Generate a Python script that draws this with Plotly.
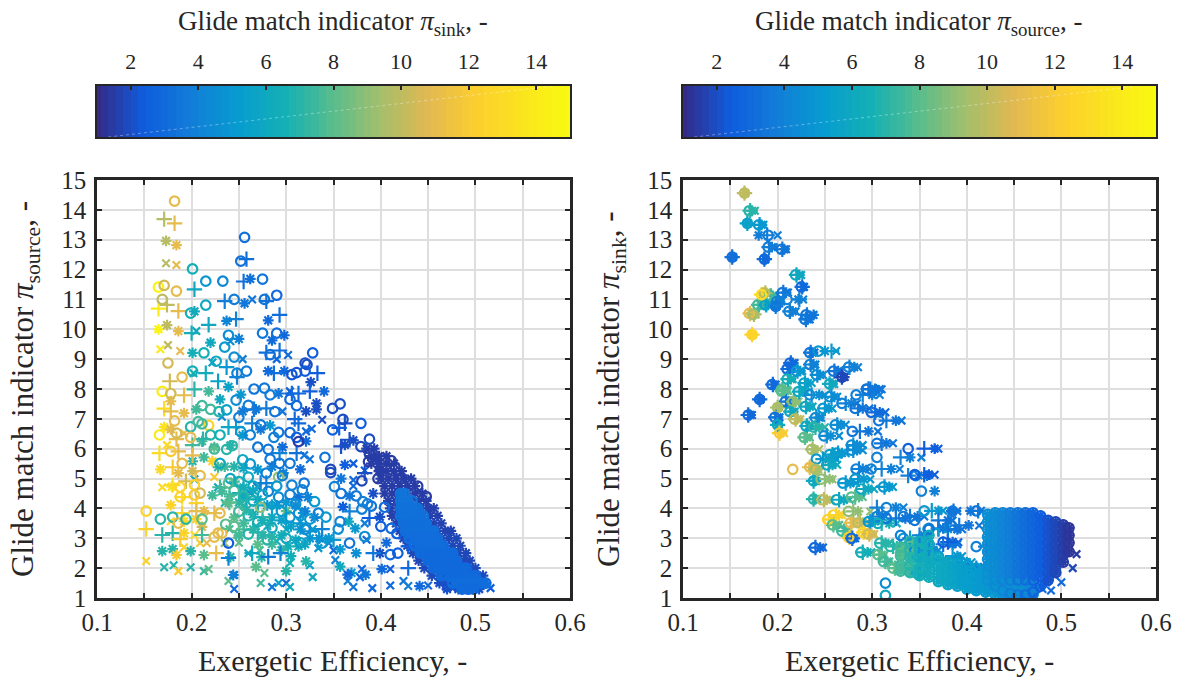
import numpy as np
import plotly.graph_objects as go

W, H = 1180, 677
PAGE_MARGIN = 8
PARULA = [[0,"#352a87"],[0.1,"#0f5cdd"],[0.2,"#127dd8"],[0.3,"#079ccf"],[0.4,"#15b1b4"],[0.5,"#59bd8c"],
          [0.6,"#a5be6b"],[0.7,"#e1b952"],[0.8,"#fcce2e"],[1,"#f9fb0e"]]
CBAR_TICKS = [2,4,6,8,10,12,14]
X_TICKS = [0.1,0.2,0.3,0.4,0.5,0.6]
X_LABELS = ["0.1","0.2","0.3","0.4","0.5","0.6"]
Y_TICKS = list(range(1,16))

# ---- left panel: (efficiency, pi_source, pi_sink)
L_O = [(.182,14.29,11),(.165,11.41,14.5),(.171,11.47,10.5),(.184,11.28,11),(.169,11,10),(.175,8.87,10.5),(.19,8.4,11),
(.201,12.02,6.5),(.215,11.61,5),(.233,11.61,4.2),(.275,11.68,3.5),(.29,11.14,3),(.277,11,3.4),(.245,11,3.8),(.256,13.08,3.3),(.252,12.28,3.3),
(.201,8.6,6.5),(.239,9.8,4.5),(.275,9.87,3.5),(.29,9.87,3.2),(.235,9.4,5),(.213,9.21,6.5),(.226,8.93,6),(.245,9.07,4.5),(.283,9.15,3.2),(.328,9.21,2.5),(.32,8.87,2),(.322,8.82,2),(.32,8.6,2.5),(.306,8.48,2.2),(.311,8.55,2.2),(.258,8.6,3.8),(.248,8.53,4),(.215,10.81,6),(.199,10.54,6.5),(.277,8.03,3.5),(.266,8,3.5),
(.169,7.92,14),(.178,7.85,10.5),(.211,7.44,7.5),(.22,7.32,7.5),(.229,7.24,7),(.237,7.3,5.5),(.247,7.63,4.5),(.26,7.45,3.8),(.283,7.8,3.8),(.304,7.65,3),(.311,7.44,3),(.288,7.24,3.5),(.25,7.05,4),(.182,6.93,11),(.218,6.78,12.5),(.199,6.73,7),(.207,6.91,7.5),(.211,6.83,7.5),(.273,6.8,3.5),(.304,6.54,3),(.311,6.38,2.5),(.313,6.24,1.5),(.166,6.46,14),(.184,6.52,10.5),(.199,6.38,11),(.22,6.46,7),(.23,6.46,6.5),(.252,6.57,5),(.262,6.46,4),(.292,6.55,3.5),(.287,6.38,4),(.178,5.91,12),(.19,5.51,11),(.224,5.99,7.5),(.243,6.1,7),(.237,5.98,7),(.27,6.05,3.5),(.281,5.98,3.5),(.254,5.63,6),(.283,5.65,3.5),(.262,5.49,5),(.293,5.51,3.5),(.304,5.51,3.5),(.23,5.51,6),(.209,5.1,11),(.341,5.71,3.5),(.347,5.31,1.8),(.347,5.2,2),(.188,4.71,12.5),(.203,4.79,12.5),(.188,4.39,12.5),(.209,4.51,10.5),(.203,4.45,12),(.241,5,6),(.26,5.05,6),(.279,5.18,4),(.292,5.05,9),(.306,4.78,4),(.239,4.85,8),(.281,4.57,4),(.296,5.1,4),(.319,4.85,3.5),(.317,4.62,4),(.292,4.38,4.5),(.304,4.46,4),(.33,4.23,5),(.273,4.04,9),(.152,3.91,12.5),(.167,3.64,7),(.18,3.71,7),(.186,3.51,11),(.194,3.64,7),(.211,3.64,8),(.23,3.84,11),(.228,3.17,11),(.224,3.04,11),(.232,3.17,11),(.236,3.47,8),(.239,2.84,2.5),(.26,3.14,7),(.334,3.84,4),(.342,3.71,5),(.325,3.64,5),(.304,3.71,5),(.338,2.84,5),(.313,3.84,4.5),
(.357,7.5,2),(.349,7.35,2),(.36,6.98,2),(.379,6.85,2.5),(.349,6.63,2.5),(.388,6.32,2),(.379,6.07,1.8),(.388,5.82,1.5),(.387,5.57,1.5),(.404,5.63,1.5),(.411,5.6,1.5),(.415,5.38,1.5),(.38,4.92,1.8),(.397,5,1.5),(.422,5,1.5),(.431,4.9,1.5),(.439,4.75,1.5),(.448,4.4,1.5),(.44,4.4,1.5),(.351,4.73,4),(.358,4.5,3.5),(.374,4.42,3.5),(.381,4.23,4),(.386,4.15,4),(.39,4.08,3.5),(.38,3.98,4),(.404,4.04,3),(.4,3.4,2.5),(.411,3.33,3),(.417,3.16,2.5),(.357,3.56,4),(.355,3.31,4.5),(.383,3.06,4.5),(.41,2.45,3),(.418,2.5,2.5),(.367,2.84,3.5),
(.245,4.6,7.5),(.255,4.4,7),(.265,4.25,6.5),(.275,4.45,6),(.25,3.9,7.5),(.26,3.75,7),(.27,3.55,6.5),(.285,3.35,6),(.295,3.9,5),(.31,4.15,4.5),(.32,3.3,4.5),(.33,3.15,5),(.245,3.4,8),(.28,2.95,7),(.3,3,6),(.315,2.85,5.5),(.25,4.9,6.5),(.265,4.75,6),(.29,4.75,5)]
L_PLUS = [(.171,13.69,9.8),(.182,13.55,11),(.174,10.82,10),(.165,10.69,14),(.186,10.61,11),(.177,8.26,10.5),
(.258,12.35,3.2),(.203,11.34,6),(.255,11.6,3.3),(.235,10.94,3.8),(.279,10.94,3.3),(.293,10.48,3.1),(.247,10.34,4),(.218,10.15,6),(.2,9.87,6.5),(.293,9.29,3.1),(.279,9.22,3.3),(.237,8.73,5),(.215,8.53,6.2),(.228,8.26,5.5),(.248,8.4,4),(.333,8.53,2.5),(.287,8.53,3.3),
(.192,7.79,11),(.203,7.99,7),(.171,7.34,13),(.178,7.25,11),(.239,6.72,6),(.247,6.72,5.5),(.264,6.85,4),(.279,7.35,3.7),(.266,7.32,3.7),(.313,7.85,3),(.306,7.85,3),(.325,7.92,2.5),(.309,6.99,3),(.313,6.85,3),(.184,6.32,11),(.212,6.32,7),(.201,6.12,7.5),(.186,5.91,11),(.201,5.78,11),(.166,5.85,13),(.18,5.38,12),(.311,5.85,3.3),(.293,5.85,4),(.194,4.91,10.5),(.18,4.78,13),(.273,4.85,4),(.279,4.85,4),(.19,4.38,13),(.205,4.18,12.5),(.19,3.84,12.5),(.152,3.31,12.5),(.169,3.11,7),(.18,3.17,7),(.188,2.97,12),(.211,3.11,7.5),(.226,2.5,11),(.205,3.91,11),(.224,3.84,11),(.251,4.51,6.5),(.23,4.71,7.5),(.264,2.5,6),(.239,2.34,4),(.281,2.38,3.5),(.294,2.5,4),(.338,3.31,4),(.275,3.71,7),(.325,3.23,4.5),
(.358,6.08,2),(.367,6.3,2),(.362,6.85,2),(.356,6.7,2.5),(.383,5.18,2),(.392,2.5,3.5),(.429,2,3),(.367,3.9,4),(.35,2.95,5),(.429,2.73,2.5),(.466,1.5,2),(.388,3.68,2.5),
(.24,4.2,8),(.258,4.3,6.5),(.27,4.1,6),(.285,4.05,5.5),(.255,3.3,7.5),(.27,3.2,7),(.3,3.55,5.5),(.315,3.5,5)]
L_STAR = [(.173,12.96,9.8),(.184,12.82,11),(.165,10,14.5),(.174,10.14,10),(.186,9.94,11),
(.262,11.69,3.3),(.256,10.87,3.5),(.281,10.3,3),(.237,10.28,4.2),(.203,10.6,6),(.298,9.8,3),(.285,9.63,3),(.25,9.68,4),(.22,9.55,6),(.201,9.21,6.5),(.281,8.6,3),(.298,8.6,3),(.239,8.07,5.5),(.326,8.23,2),
(.218,7.92,7.5),(.252,7.81,5),(.23,7.65,6),(.292,7.85,3.5),(.34,7.92,3),(.178,7.59,11),(.192,7.19,11),(.205,7.32,7.5),(.268,7.32,3.5),(.254,7.25,3.7),(.332,7.52,2),(.321,7.25,2),(.332,7.32,2),(.283,6.78,5),(.171,6.72,13.5),(.178,6.65,11),(.273,6.65,3.7),(.254,6.45,5),(.321,6.25,3),(.211,6.25,7.5),(.296,6.05,3),(.224,6.05,8),(.241,6.11,7),(.213,5.71,7.5),(.222,5.58,12.5),(.201,5.58,7),(.167,5.31,13),(.186,5.18,11),(.201,5.25,10.5),(.228,5.38,7.5),(.315,5.31,3),(.297,5.18,4),(.179,4.73,13.5),(.222,4.44,7.5),(.178,4.11,12.5),(.213,3.91,11),(.205,3.64,12.5),(.192,3.57,13),(.192,3.17,12.5),(.211,3.38,10.5),(.169,2.57,7),(.18,2.64,7),(.199,2.57,7),(.213,2.44,8),(.184,2.44,12),(.241,2.37,7),(.268,2.04,8),(.3,1.9,7),(.321,2.23,7),(.274,2.37,7),(.255,4.4,6),(.239,4.18,8),(.232,4.57,7.5),(.313,4.38,3.3),(.323,4.38,4),(.283,3.51,7),(.3,3.91,8),(.318,3.84,5),(.313,2.73,6.5),(.302,2.73,6.5),(.244,1.77,4),
(.362,6.13,2),(.371,6.28,2),(.362,5.46,2.5),(.399,5.3,1.5),(.358,5,3.5),(.395,5.68,1.5),(.36,4.05,2.5),(.367,4.42,3.5),(.392,4.5,2),(.399,3.72,2),(.366,3.56,6),(.373,3.33,5),(.357,2.63,5),(.374,2.5,4.5),(.357,2.05,6),(.369,1.84,5),(.384,1.78,3.5),(.401,1.97,3),(.365,1.78,3),(.441,1.4,3),(.399,2.5,2),(.406,2.85,3),
(.235,5.4,7.5),(.245,5.4,7),(.255,5.35,6),(.27,5.3,5),(.285,5.4,4),(.245,4.9,7.5),(.255,4.7,6.5),(.265,4.6,6),(.27,4.3,5.5),(.28,4.1,5),(.29,4.1,5),(.3,4.2,5),(.31,4.1,4.5),(.32,3.9,4),(.33,3.7,4),
(.24,4.4,7.5),(.25,4.2,7),(.258,3.95,7),(.265,3.8,6.5),(.275,3.6,6.5),(.285,3.7,6),(.295,3.6,5.5),(.305,3.4,5.5),(.315,3.3,5),(.325,3,5),(.335,3,4.5),(.345,3,5),
(.245,3.7,8),(.255,3.5,7.5),(.265,3.3,7),(.275,3.1,7),(.285,3.05,7),(.295,3.1,6.5),(.31,2.95,6),(.32,2.8,6),(.25,3.1,7.5),(.27,2.8,8),(.285,2.8,7.5),(.295,2.6,7),(.305,2.4,6.5)]
L_CROSS = [(.173,12.21,9.8),(.184,12.15,11),(.167,9.33,14),(.175,9.47,10),(.188,9.27,11),
(.264,11,3.5),(.205,9.94,6),(.241,9.6,4.5),(.254,9,4),(.29,9,3),(.302,9.14,3),(.222,8.89,5.5),(.202,8.53,6.5),
(.174,6.12,13),(.192,6.52,11),(.169,4.71,13),(.203,4.98,6),(.224,5.05,12),(.178,3.57,13),(.192,2.7,12.5),(.203,3.11,13),(.152,2.24,12.5),(.171,2.03,7),(.181,2.1,7),(.186,1.9,12),(.199,2.03,7),(.213,1.9,7.5),(.218,1.97,8),(.209,2.84,12),(.216,2.84,11),(.248,3.12,8),(.235,2.84,9),(.239,1.57,8),(.245,1.77,3),(.245,1.3,3),(.273,1.5,7.5),(.285,1.37,3.5),(.292,1.5,5.5),(.3,1.5,3),(.304,1.37,6),(.328,1.7,6),(.304,2.17,6.5),(.325,2.1,5.5),(.277,1.84,8),(.26,2.5,6),(.262,4.51,4),(.27,4.71,4),(.228,4.71,6),(.235,4.18,7),(.232,7.07,4.5),(.296,7.25,3.5),(.321,6.58,3),(.327,6.67,3),(.325,5.65,3.5),(.319,5.78,3.5),(.338,6.97,2),(.304,7.92,2.5),(.345,2.84,4),(.334,2.67,5),(.35,2.6,3),
(.371,5.5,2.5),(.383,5.27,2.5),(.371,4.95,3),(.371,4.75,3),(.352,2.27,4),(.365,1.57,4),(.371,1.37,3.5),(.38,1.97,3),(.378,1.7,3),(.391,1.33,3),(.41,1.97,2.5),(.41,1.42,3),(.424,1.57,3.5),(.429,1.4,4),(.45,1.42,3),(.476,1.33,2),(.516,1.33,2.5),(.385,2.95,3),(.383,3.5,4),
(.24,3.3,7.5),(.255,4.1,7),(.268,3.4,6.5),(.28,3.4,6),(.29,2.9,6.5),(.3,3.3,6),(.315,3.55,5),(.328,3.3,5),(.338,2.95,5),(.25,2.85,8),(.272,2.6,7.5)]
# dense band of the left panel: (pi_source, pi_sink, efficiencies)
L_NAVY_ROWS = [(6,1.6,[.385,.393]),(5.75,1.5,[.39,.398,.406]),(5.5,1.5,[.39,.398,.406,.414]),(5.25,1.5,[.398,.406,.414,.422]),(5,1.5,[.4,.408,.416,.424,.432]),(4.75,1.5,[.404,.412,.42,.428,.436]),
(4.5,1.5,[.404,.412,.42,.428,.436,.444]),(4.25,1.6,[.408,.416,.424,.432,.44,.448]),(4,1.6,[.41,.418,.426,.434,.442,.45,.456]),(3.75,1.6,[.412,.42,.428,.436,.444,.452,.46]),
(3.5,1.7,[.416,.424,.432,.44,.448,.456,.464]),(3.25,1.7,[.42,.428,.436,.444,.452,.46,.468,.474]),(3,1.8,[.424,.432,.44,.448,.456,.464,.472,.48]),(2.75,1.8,[.428,.436,.444,.452,.46,.468,.476,.484]),
(2.5,1.8,[.434,.442,.45,.458,.466,.474,.482,.49]),(2.25,1.8,[.44,.448,.456,.464,.472,.48,.488,.494]),(2,1.9,[.446,.454,.462,.47,.478,.486,.494,.5]),(1.75,1.9,[.454,.462,.47,.478,.486,.494,.502,.508]),
(1.5,2,[.462,.47,.478,.486,.494,.502,.51]),(1.3,2.1,[.47,.482,.494,.504])]
L_CORE_ROWS = [(4.5,3.4,[.421,.425]),(4.25,3.4,[.421,.427,.433]),(4,3.3,[.421,.427,.433,.439]),(3.75,3.3,[.421,.427,.433,.439,.445]),(3.5,3.2,[.424,.43,.436,.442,.448]),
(3.25,3.2,[.426,.432,.438,.444,.45,.456]),(3,3.1,[.43,.436,.442,.448,.454,.46]),(2.75,3.1,[.436,.442,.448,.454,.46,.466]),(2.5,3,[.442,.448,.454,.46,.466,.472,.476]),
(2.25,3,[.45,.456,.462,.468,.474,.48]),(2,3,[.456,.462,.468,.474,.48,.486,.49]),(1.75,3,[.464,.47,.476,.482,.488,.494,.5]),(1.5,3.1,[.476,.482,.488,.494,.5,.506,.511]),(1.3,3,[.486,.492,.498])]

# ---- right panel fans: (pi_sink, pi_source, eff_o, eff_plus, eff_star, eff_cross)
R_FANS = [(14.56,10,.165,.165,.165,.166),(13.97,7,.17,.171,.173,.176),(13.55,5.5,.168,.168,.168,.169),(13.5,5,.18,.181,.183,.185),(13.15,3.8,.19,.189,.18,.2),
(12.75,3.8,.19,.191,.194,.196),(12.68,3.5,.204,.205,.207,.209),(12.42,3.2,.152,.152,.152,.153),(12.35,3,.186,.186,.187,.187),(11.82,6,.219,.22,.223,.225),(11.42,3,.225,.226,.227,.228),
(11.23,3.5,.205,.206,.209,.211),(11.12,7.5,.192,.193,.195,.197),(10.82,7.5,.179,.18,.182,.184),(10.82,5.5,.187,.188,.19,.192),(10.93,4,.199,.2,.202,.204),(11,4,.21,.223,.222,.227),(10.77,3.5,.198,.198,.198,.199),(10.6,4,.212,.213,.216,.219),(10.48,3.5,.23,.231,.238,.236),(10.33,3.5,.229,.23,.232,.234),(10.53,11,.17,.171,.172,.173),(10.5,9.5,.174,.175,.176,.177),(11.22,10,.186,.187,.188,.189),(11.16,13,.183,.183,.183,.184),
(9.82,12.5,.173,.173,.173,.174),(9.22,3.5,.234,.235,.237,.239),(9.27,5,.243,.257,.25,.262),(8.82,4,.234,.235,.238,.24),(8.87,3,.213,.214,.216,.218),(8.67,3,.21,.211,.213,.215),(8.6,5,.22,.221,.224,.226),(8.33,6.5,.21,.211,.214,.216),(8.2,5.5,.228,.229,.232,.236),(8.47,4.5,.241,.242,.245,.248),(8.6,3.5,.259,.26,.264,.267),(8.73,4,.275,.276,.281,.285),(8.4,1.8,.268,.268,.269,.271),(8.17,6,.255,.255,.258,.26),(8,3.5,.294,.296,.303,.308),(8.15,3,.194,.195,.196,.198),(7.98,8,.204,.205,.208,.21),
(7.93,8,.204,.205,.208,.211),(7.91,6,.222,.223,.227,.23),(7.8,4.5,.234,.236,.244,.25),(7.74,4.5,.255,.257,.26,.263),(7.8,4,.283,.29,.3,.308),(7.99,3.5,.294,.298,.304,.31),(7.65,3,.181,.181,.181,.182),(7.58,3.5,.208,.209,.212,.214),(7.58,9,.216,.217,.219,.222),(7.41,6,.229,.23,.234,.237),(7.38,9.5,.2,.2,.2,.201),(7.24,6,.213,.214,.216,.218),(7.35,5,.248,.25,.254,.258),(7.52,4,.268,.272,.278,.284),(7.35,3.5,.282,.285,.29,.297),(7.22,3,.299,.303,.308,.314),(6.94,3.5,.307,.315,.325,.331),
(7.13,3,.169,.169,.171,.173),(7.05,3.3,.197,.198,.2,.202),(6.8,6,.2,.2,.2,.201),(6.99,10,.218,.219,.221,.224),(7.04,4.5,.24,.241,.244,.246),(6.76,6,.23,.231,.233,.235),(6.72,7,.238,.24,.244,.25),(6.8,4.5,.261,.263,.267,.272),(6.52,12,.202,.202,.203,.207),(6.38,8,.228,.229,.231,.234),(6.43,4.5,.249,.252,.256,.265),(6.58,3.5,.279,.287,.296,.306),
(5.98,9.5,.236,.237,.239,.244),(6.12,4.5,.278,.28,.284,.29),(5.95,4.5,.278,.28,.284,.29),(6.18,3.5,.305,.31,.315,.322),(5.85,5,.262,.264,.268,.272),(5.71,4,.305,.33,.34,.352),(6,2.5,.338,.355,.366,.37),(5.65,5,.241,.248,.254,.262),(5.8,5.5,.255,.258,.26,.264),(5.46,6,.252,.254,.258,.263),(5.31,11,.216,None,None,None),(5.38,11,.234,.234,.236,.238),(5.31,9.5,.24,.24,.241,.243),(5.32,4,.283,.286,.29,.297),(5.32,4,.299,.31,.32,.329),(5.1,4,.346,.338,.358,.349),(5.13,2.5,.345,.355,.36,.366),
(4.92,6,.238,.238,.24,.241),(4.98,9,.246,.25,.255,.258),(4.85,5,.269,.272,.277,.283),(4.98,5,.282,.285,.291,.298),(4.65,6,.288,.291,.296,.302),(4.72,5,.312,.313,.318,.322),(4.58,4,.352,None,.366,None),
(4.31,7,.238,.238,.24,.242),(4.29,10,.247,.249,.252,.256),(4.29,6,.262,.265,.27,.276),(4.38,8,.278,.282,.286,.29),(4.03,4,.315,.305,.325,.333),(3.9,9,.275,.28,.285,.298),(3.78,12.5,.259,.262,.265,.268),(3.63,12.5,.253,.255,.257,.259),(3.73,4,.305,.307,.31,.314),(3.67,3.5,.315,.325,.335,.345),(3.92,5,.355,.363,.37,.375),(3.73,3.5,.333,.34,.348,.355),
(3.91,3.5,.385,.386,.384,.39),(3.92,3.5,.41,.412,.404,.415),(3.43,3.5,.383,.392,.402,.413),(3.33,3.5,.36,.37,.375,.38),(2.87,2.5,.375,.38,.385,.391),(2.72,4,.41,.42,.43,.432),
(3.45,8,.258,.259,.262,.265),(3.24,7.5,.268,.27,.272,.274),(3.52,11,.277,.278,.28,.282),(3.52,10,.285,.287,.29,.294),(3.03,12,.275,.276,.277,.278),(3,3,.278,.279,.28,.282),(3.2,12.5,.29,.291,.292,.294),(3.14,10.5,.296,.297,.299,.302),(3.5,6.5,.306,.31,.318,.326),(3.56,5,.296,.298,.3,.303),(3,5,.333,.34,.35,.358),(3.31,5,.359,.37,.38,.39),(2.69,3,.239,.24,.245,.248),(2.53,6.5,.288,.29,.295,.299),(2.45,8,.306,.308,.31,.313),(2.22,7.5,.312,.314,.316,.318),(2,8,.322,.324,.326,.33),(2.5,8,.33,.332,.335,.338),(1.5,4.5,.314,None,None,None),(1.09,6,.314,None,None,None),(1.83,6,.347,.35,.352,.355),(2.84,7,.308,.31,.314,.318),(2.73,7,.319,.322,.326,.33),(2,7.5,.336,.338,.341,.344),(2.73,8,.34,.343,.346,.35),(2.23,6,.356,.358,.36,.362),(2.4,6,.348,.35,.353,.356),
(3.6,3.5,.345,.37,.38,.385),(3.3,3.5,.36,.38,.39,.395),(3.1,4,.33,.35,.355,.36),(2.8,3.5,.36,.375,.385,.39),(2.6,4.5,.345,.36,.365,.37),(2.4,5,.37,.385,.39,.395),(2.2,5,.385,.395,.4,.405),(2,4,.4,.41,.415,.42)]
# dense low band of the right panel: (efficiency, pi_source, pi_sink values)
R_BAND_COLS = [(.33,7.5,[1.9,2.1,2.4,2.7]),(.34,7,[1.85,2.1,2.35,2.6,2.9]),(.35,6.5,[1.75,2,2.3,2.6,2.9]),(.36,6.2,[1.7,1.95,2.2,2.5,2.8,3.1]),(.37,6,[1.55,1.8,2.05,2.35]),(.38,5.8,[1.45,1.7,1.95,2.2]),(.39,5.5,[1.4,1.65,1.9,2.15]),(.4,5.3,[1.3,1.55,1.8,2.05]),(.41,5.2,[1.25,1.5,1.75,2]),(.42,5,[1.2,1.45,1.7]),
(.375,6,[1.65,1.9,2.2]),(.385,5.7,[1.55,1.8,2.05]),(.395,5.4,[1.5,1.75,2]),(.405,5.3,[1.4,1.65,1.9]),(.415,5.1,[1.35,1.6,1.85]),(.425,5,[1.3,1.55]),(.435,4.9,[1.2,1.45]),(.445,4.7,[1.18,1.4]),(.455,4.6,[1.18,1.42]),(.465,4.3,[1.2,1.45])]
# blob of the right panel: (efficiency, pi_source, pi_sink values)
R_BLOB_COLS = [(.422,4.6,[3.8,3.55,3.3,3.05,2.8,2.55,2.3,2.05,1.8,1.6]),(.43,4.4,[3.85,3.6,3.35,3.1,2.85,2.6,2.35,2.1,1.85,1.6,1.4]),(.438,4.1,[3.85,3.6,3.35,3.1,2.85,2.6,2.35,2.1,1.85,1.6,1.25]),(.446,3.8,[3.85,3.6,3.35,3.1,2.85,2.6,2.35,2.1,1.85,1.6,1.15]),(.454,3.4,[3.85,3.6,3.35,3.1,2.85,2.6,2.35,2.1,1.85,1.6,1.1]),(.462,3.1,[3.85,3.6,3.35,3.1,2.85,2.6,2.35,2.1,1.85,1.6,1.1]),(.47,2.8,[3.85,3.6,3.35,3.1,2.85,2.6,2.35,2.1,1.85,1.6,1.2]),(.478,2.5,[3.75,3.5,3.25,3,2.75,2.5,2.25,2,1.75,1.4]),(.486,2.1,[3.6,3.35,3.1,2.85,2.6,2.35,2.1,1.85,1.6]),(.494,1.8,[3.55,3.3,3.05,2.8,2.55,2.3,2.05,1.85]),(.502,1.5,[3.45,3.2,2.95,2.7,2.45,2.2]),(.508,1.3,[3.35,3.1,2.85,2.55])]
R_BLOB_LOW_COLS = [(.43,5,[1.12,1.35,1.6]),(.44,4.8,[1.08,1.3,1.55]),(.45,4.6,[1.05,1.3,1.5]),(.46,4.5,[1.05,1.3,1.55]),(.47,4.2,[1.12,1.35])]
R_CROSS_EXTRA = [(.516,2.47,1.5),(.512,2,1.8),(.5,1.53,3),(.493,1.75,3),(.489,1.25,3),(.48,1.3,3.5),(.47,1.1,3.8)]
R_STAR_EXTRA = [(.484,1.53,3)]

def unpack(rows_xyz):
    a = np.array(rows_xyz, dtype=float)
    return a[:,0], a[:,1], a[:,2]

def expand_rows(rows):
    return [(x,y,c) for y,c,xs in rows for x in xs]

def expand_cols(cols):
    return [(x,y,c) for x,c,ys in cols for y in ys]

def fan(col):
    return [(f[col],f[0],f[1]) for f in R_FANS if f[col] is not None]

L_SETS = [("x-thin-open",7.5,L_CROSS),("asterisk-open",9,L_STAR+expand_rows(L_NAVY_ROWS)+expand_rows(L_CORE_ROWS)),("cross-thin-open",11,L_PLUS),
          ("circle-open",9.5,L_O+expand_rows(L_CORE_ROWS))]
R_SETS = [("x-thin-open",7.5,fan(5)+R_CROSS_EXTRA),("asterisk-open",9,fan(4)+R_STAR_EXTRA+expand_cols(R_BAND_COLS)+expand_cols(R_BLOB_LOW_COLS)+expand_cols(R_BLOB_COLS)),("cross-thin-open",11,fan(3)),
          ("circle-open",9.5,fan(2)+expand_cols(R_BAND_COLS)+expand_cols(R_BLOB_LOW_COLS)+expand_cols(R_BLOB_COLS))]

fig = go.Figure()
def add_scatter(sets, xa, ya):
    for sym,size,data in sets:
        x,y,c = unpack(data)
        fig.add_trace(go.Scatter(x=x,y=y,mode="markers",xaxis=xa,yaxis=ya,showlegend=False,hoverinfo="skip",
            marker=dict(symbol=sym,size=size,color=c,coloraxis="coloraxis",line=dict(width=2.2))))
add_scatter(L_SETS,"x","y")
add_scatter(R_SETS,"x2","y2")

levels = np.linspace(1,15,64)
for xa,ya in (("x3","y3"),("x4","y4")):
    fig.add_trace(go.Heatmap(x=levels,y=[0.5],z=[levels],coloraxis="coloraxis",xaxis=xa,yaxis=ya,hoverinfo="skip"))

INK = "#262626"
FONT = "Liberation Serif"
FW, FH = W-PAGE_MARGIN, H-PAGE_MARGIN
def dx(a,b): return [(a-PAGE_MARGIN)/FW,(b-PAGE_MARGIN)/FW]
def dy(top,bot): return [1-(bot-PAGE_MARGIN)/FH,1-(top-PAGE_MARGIN)/FH]
main_x = dict(range=[0.1,0.6],tickmode="array",tickvals=X_TICKS,ticktext=X_LABELS,ticks="inside",ticklen=5,tickwidth=2,tickcolor=INK,
              minor=dict(tickmode="array",tickvals=[0.15,0.25,0.35,0.45,0.55],ticks="inside",ticklen=5,tickwidth=2,tickcolor=INK,showgrid=True,gridcolor="#dedede",gridwidth=1.5),
              showline=True,linecolor=INK,linewidth=2.5,mirror="ticks",showgrid=True,gridcolor="#dedede",gridwidth=1.5,zeroline=False,
              tickfont=dict(family=FONT,size=25,color=INK))
main_y = dict(range=[1,15],tickmode="array",tickvals=Y_TICKS,ticks="inside",ticklen=5,tickwidth=2,tickcolor=INK,ticklabelstandoff=3,
              showline=True,linecolor=INK,linewidth=2.5,mirror="ticks",showgrid=True,gridcolor="#dedede",gridwidth=1.5,zeroline=False,
              tickfont=dict(family=FONT,size=25,color=INK))
cb_x = dict(range=[1,15],side="top",tickmode="array",tickvals=CBAR_TICKS,ticks="inside",ticklen=4,tickwidth=2,tickcolor=INK,ticklabelstandoff=6,
            showline=True,linecolor=INK,linewidth=2,mirror=True,showgrid=False,zeroline=False,tickfont=dict(family=FONT,size=22,color=INK))
cb_y = dict(range=[0,1],showticklabels=False,ticks="",showline=True,linecolor=INK,linewidth=2,mirror=True,showgrid=False,zeroline=False)

def ann(x,y,text,size,angle=0):
    return dict(x=(x-PAGE_MARGIN)/FW,y=1-(y-PAGE_MARGIN)/FH,xref="paper",yref="paper",text=text,showarrow=False,textangle=angle,xanchor="center",yanchor="middle",
                font=dict(family=FONT,size=size,color=INK))
PI = "<i>π</i>"
annots = [ann(333,23,f"Glide match indicator {PI}<sub>sink</sub>, -",27),
          ann(919,23,f"Glide match indicator {PI}<sub>source</sub>, -",27),
          ann(332,660,"Exergetic Efficiency, -",30),ann(919,660,"Exergetic Efficiency, -",30),
          ann(25,389,f"Glide match indicator {PI}<sub>source</sub>, -",31,-90),
          ann(611,389,f"Glide match indicator {PI}<sub>sink</sub>, -",31,-90)]
stripe = dict(type="line",x0=1.33,x1=14.5,y0=0,y1=1,line=dict(color="rgba(255,255,255,0.35)",width=1,dash="dot"),layer="above")

fig.update_layout(width=FW,height=FH,margin=dict(l=0,r=0,t=0,b=0,autoexpand=False),paper_bgcolor="white",plot_bgcolor="white",
    coloraxis=dict(colorscale=PARULA,cmin=1,cmax=15,showscale=False),
    font=dict(family=FONT,color=INK),annotations=annots,
    xaxis=dict(main_x,domain=dx(97,570),anchor="y"),yaxis=dict(main_y,domain=dy(180,598),anchor="x"),
    xaxis2=dict(main_x,domain=dx(683,1156),anchor="y2"),yaxis2=dict(main_y,domain=dy(180,598),anchor="x2"),
    xaxis3=dict(cb_x,domain=dx(97,570),anchor="y3"),yaxis3=dict(cb_y,domain=dy(86,137),anchor="x3"),
    xaxis4=dict(cb_x,domain=dx(683,1156),anchor="y4"),yaxis4=dict(cb_y,domain=dy(86,137),anchor="x4"),
    shapes=[dict(stripe,xref="x3",yref="y3"),dict(stripe,xref="x4",yref="y4")])
fig.write_html("out.html")
